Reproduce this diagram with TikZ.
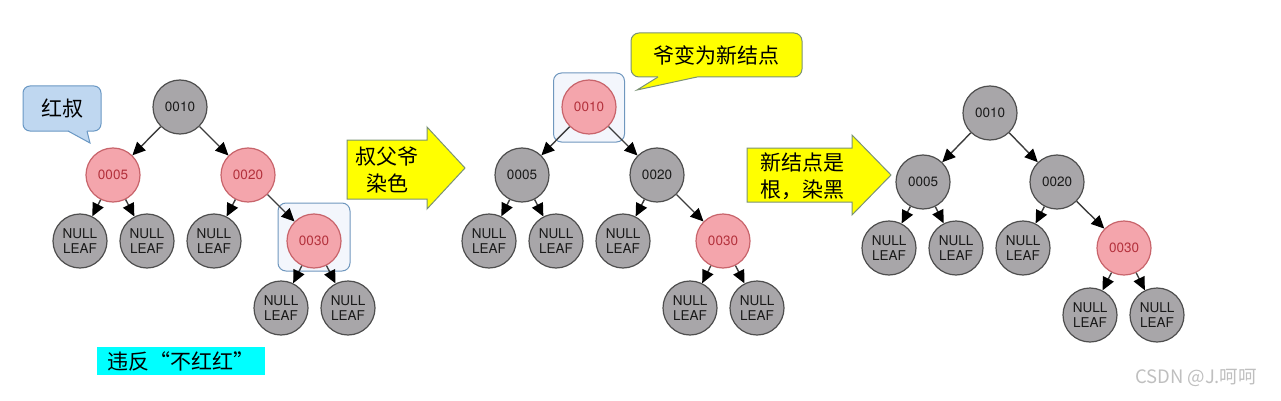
\documentclass[tikz,border=0pt]{standalone}
\usepackage{fontspec}
\setmainfont{TeX Gyre Heros}
\newfontfamily\cjk{Noto Sans CJK SC}
\usetikzlibrary{arrows.meta}
\definecolor{nodegray}{HTML}{A8A6A9}
\definecolor{nodeline}{HTML}{4E4E4E}
\definecolor{redfill}{HTML}{F4A5AC}
\definecolor{redline}{HTML}{C8646B}
\definecolor{redtext}{HTML}{B3303B}
\definecolor{edgegray}{HTML}{3C3C3C}
\definecolor{hlfill}{HTML}{F3F6FC}
\definecolor{hlline}{HTML}{6F97BE}
\definecolor{tipfill}{HTML}{BFD7F0}
\definecolor{tipline}{HTML}{6A98C4}
\definecolor{signline}{HTML}{7A9275}
\definecolor{signfill}{HTML}{FFFF00}
\definecolor{rulefill}{HTML}{00FFFF}

\begin{document}
\begin{tikzpicture}[x=1pt,y=-1pt,
    bnode/.style={circle,draw=nodeline,fill=nodegray,line width=1.2pt,minimum size=54pt,
        inner sep=0pt,text=black!90,font=\fontsize{13.5}{15}\selectfont},
    rnode/.style={bnode,draw=redline,fill=redfill,text=redtext},
    leaf/.style={bnode,align=center},
    edge/.style={draw=edgegray,line width=1.4pt,-{Triangle[length=13pt,width=12pt,color=black]}},
    hlbox/.style={draw=hlline,fill=hlfill,line width=1pt,rounded corners=8pt,inner sep=0pt},
    sign/.style={font=\cjk\fontsize{21}{27}\selectfont,align=center,inner sep=0pt}]
    \useasboundingbox (0,0) rectangle (1281,401);

    % tree 1
    \node [hlbox,minimum width=72pt,minimum height=68pt] (hl1) at (314,237) {};
    \node [bnode] (r1) at (180,107) {0010};
    \node [rnode] (a1) at (113,175) {0005};
    \node [rnode] (b1) at (248,175) {0020};
    \node [leaf] (aa1) at (80,241) {NULL\\LEAF};
    \node [leaf] (ab1) at (147,241) {NULL\\LEAF};
    \node [leaf] (ba1) at (214,241) {NULL\\LEAF};
    \node [rnode] (bb1) at (314,241) {0030};
    \node [leaf] (bba1) at (281,308) {NULL\\LEAF};
    \node [leaf] (bbb1) at (348,308) {NULL\\LEAF};

    % tree 2
    \node [hlbox,minimum width=71pt,minimum height=69pt] (hl2) at (589,107.5) {};
    \node [rnode] (r2) at (589,107) {0010};
    \node [bnode] (a2) at (522,175) {0005};
    \node [bnode] (b2) at (657,175) {0020};
    \node [leaf] (aa2) at (489,241) {NULL\\LEAF};
    \node [leaf] (ab2) at (556,241) {NULL\\LEAF};
    \node [leaf] (ba2) at (623,241) {NULL\\LEAF};
    \node [rnode] (bb2) at (723,241) {0030};
    \node [leaf] (bba2) at (690,308) {NULL\\LEAF};
    \node [leaf] (bbb2) at (757,308) {NULL\\LEAF};

    % tree 3
    \node [bnode] (r3) at (990,113) {0010};
    \node [bnode] (a3) at (923,182) {0005};
    \node [bnode] (b3) at (1057,182) {0020};
    \node [leaf] (aa3) at (889,248) {NULL\\LEAF};
    \node [leaf] (ab3) at (956,248) {NULL\\LEAF};
    \node [leaf] (ba3) at (1023,248) {NULL\\LEAF};
    \node [rnode] (bb3) at (1124,248) {0030};
    \node [leaf] (bba3) at (1090,315) {NULL\\LEAF};
    \node [leaf] (bbb3) at (1157,315) {NULL\\LEAF};

    \foreach \t in {1,2,3} {
        \draw [edge] (r\t) -- (a\t);
        \draw [edge] (r\t) -- (b\t);
        \draw [edge] (a\t) -- (aa\t);
        \draw [edge] (a\t) -- (ab\t);
        \draw [edge] (b\t) -- (ba\t);
        \draw [edge] (b\t) -- (bb\t);
        \draw [edge] (bb\t) -- (bba\t);
        \draw [edge] (bb\t) -- (bbb\t);
    }

    % callouts
    \node [draw=tipline,fill=tipfill,line width=1pt,rounded corners=7pt,minimum width=78pt,
        minimum height=45pt,font=\cjk\fontsize{21}{25}\selectfont] (uncle) at (62,108.5) {红叔};
    \fill [tipfill] (68.5,127) -- (68.5,131) -- (90,143) -- (87,131) -- (87,127) -- cycle;
    \draw [tipline,line width=1pt] (68,131) -- (90,143) -- (87,131);

    \node [draw=signline,fill=signfill,line width=1pt,rounded corners=8pt,minimum width=171pt,
        minimum height=44pt,font=\cjk\fontsize{21}{25}\selectfont] (newnode) at (716.5,55) {爷变为新结点};
    \fill [signfill] (658,73) -- (658,77) -- (637,90) -- (697,77) -- (697,73) -- cycle;
    \draw [signline,line width=1pt] (658,77) -- (637,90) -- (697,77);

    % arrows
    \filldraw [draw=signline,fill=signfill,line width=1pt] (347,140) -- (427,140) -- (427,127)
        -- (465,168) -- (427,209) -- (427,199) -- (347,199) -- cycle;
    \node [sign] (step1) at (387,170) {叔父爷\\染色};
    \filldraw [draw=signline,fill=signfill,line width=1pt] (747,148) -- (852,148) -- (852,135)
        -- (891,175) -- (852,215) -- (852,202) -- (747,202) -- cycle;
    \node [sign] (step2) at (802,176) {新结点是\\根，染黑};

    \node [fill=rulefill,minimum width=168pt,minimum height=28pt,inner sep=0pt,
        font=\cjk\fontsize{21}{25}\selectfont] (rule) at (181,361) {违反“不红红”};

    \node [text=black!25,font=\cjk\fontsize{18.5}{20}\selectfont,inner sep=0pt] (mark) at (1196,378) {CSDN @J.呵呵};
\end{tikzpicture}
\end{document}
